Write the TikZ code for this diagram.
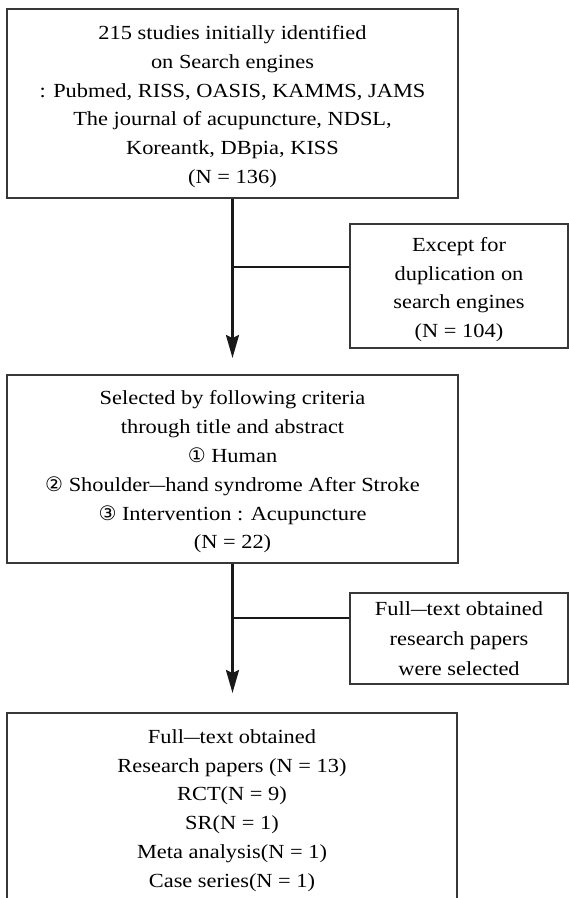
\documentclass[tikz,border=0pt]{standalone}
\usepackage{fontspec}
\setmainfont{Liberation Serif}[FakeStretch=1.12]
\newfontfamily\circf{DejaVu Sans}[Scale=1.0]
\newcommand\ldash{\scalebox{1.4}[1]{–}}
\usetikzlibrary{arrows.meta}
\begin{document}
\begin{tikzpicture}[x=1pt,y=-1pt,
  box/.style={draw=black!78, line width=1.2pt, rectangle, inner sep=0pt},
  txt/.style={inner sep=0pt, align=center, text=black, font=\fontsize{20}{28.8}\selectfont},
  conn/.style={line width=2.4pt, draw=black!90},
  arr/.style={conn, -{Stealth[length=23pt,width=13pt,inset=3pt]}}]
\useasboundingbox (0,0) rectangle (569,898);
\node[box, minimum width=451pt, minimum height=189pt] (b1) at (232.5,103.5) {};
\node[txt] (b1t) at ([yshift=-3pt]b1.center)
  {215 studies initially identified\\on Search engines\\: Pubmed, RISS, OASIS, KAMMS, JAMS\\The journal of acupuncture, NDSL,\\Koreantk, DBpia, KISS\\(N = 136)};
\node[box, minimum width=218pt, minimum height=124pt] (b2) at (459,286) {};
\node[txt] (b2t) at ([yshift=-3.5pt]b2.center)
  {Except for\\duplication on\\search engines\\(N = 104)};
\node[box, minimum width=451pt, minimum height=188pt] (b3) at (232.5,469) {};
\node[txt] (b3t) at ([yshift=-3pt]b3.center)
  {Selected by following criteria\\through title and abstract\\{\circf ①} Human\\{\circf ②} Shoulder\ldash hand syndrome After Stroke\\{\circf ③} Intervention : Acupuncture\\(N = 22)};
\node[box, minimum width=218pt, minimum height=91pt] (b4) at (459,638.5) {};
\node[txt, font=\fontsize{20}{30}\selectfont] (b4t) at ([yshift=-0.5pt]b4.center)
  {Full\ldash text obtained\\research papers\\were selected};
\node[box, minimum width=450pt, minimum height=188pt] (b5) at (232,807) {};
\node[txt] (b5t) at ([yshift=-3.5pt]b5.center)
  {Full\ldash text obtained\\Research papers (N = 13)\\RCT(N = 9)\\SR(N = 1)\\Meta analysis(N = 1)\\Case series(N = 1)};
\coordinate (t1) at (232.5,358);
\coordinate (j1) at (232.5,267);
\coordinate (t2) at (232.5,693);
\coordinate (j2) at (232.5,618);
\draw[arr] (b1.south) -- (t1);
\draw[conn] (b2.west |- j1) -- (j1);
\draw[arr] (b3.south) -- (t2);
\draw[conn] (b4.west |- j2) -- (j2);
\end{tikzpicture}
\end{document}
